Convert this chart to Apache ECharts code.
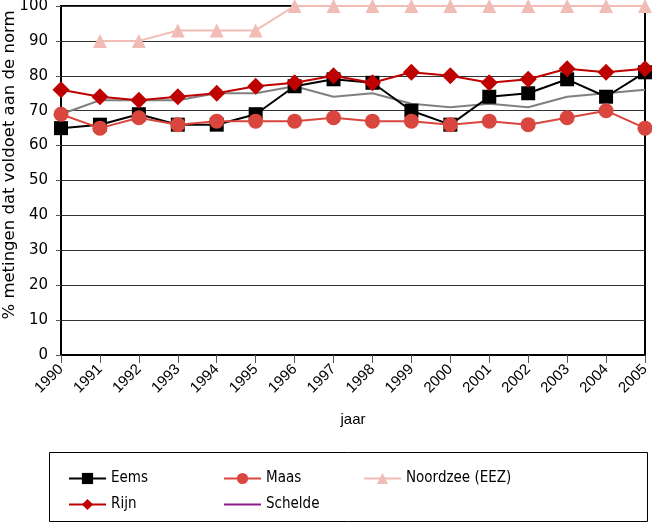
<!DOCTYPE html>
<html><head><meta charset="utf-8">
<script src="https://cdn.jsdelivr.net/npm/echarts@6/dist/echarts.min.js"></script>
<style>html,body{margin:0;padding:0;background:#fff}#c{width:652px;height:524px}</style>
</head><body><div id="c"></div>
<script>
const years = ['1990','1991','1992','1993','1994','1995','1996','1997','1998','1999','2000','2001','2002','2003','2004','2005'];
const eems     = [65,66,69,66,66,69,77,79,78,70,66,74,75,79,74,81];
const maas     = [69,65,68,66,67,67,67,68,67,67,66,67,66,68,70,65];
const noordzee = [null,90,90,93,93,93,100,100,100,100,100,100,100,100,100,100];
const rijn     = [76,74,73,74,75,77,78,80,78,81,80,78,79,82,81,82];
const schelde  = [69,73,73,73,75,75,77,74,75,72,71,72,71,74,75,76];
const yTicks = [0,10,20,30,40,50,60,70,80,90,100];
const yTitle = '% metingen dat voldoet aan de norm';

const FONT = 'Liberation Sans';
const WIDE = 'DejaVu Sans';
const NARROW = '"DejaVu Sans Condensed", "Liberation Sans"';
const chart = echarts.init(document.getElementById('c'), null, {renderer:'canvas'});
const legendText = {fontFamily: NARROW, fontSize: 15, color:'#000'};
chart.setOption({
  animation:false,
  backgroundColor:'#fff',
  textStyle:{fontFamily:FONT},
  grid:{left:61, right:7, top:6, bottom:169, containLabel:false, outerBoundsMode:'none',
    show:true, borderColor:'#000', borderWidth:2, backgroundColor:'transparent'},
  xAxis:{type:'category', data:years, boundaryGap:false,
    name:'jaar', nameLocation:'middle', nameGap:57,
    nameTextStyle:{fontFamily:FONT, fontSize:15, color:'#000'},
    axisLine:{lineStyle:{color:'#000', width:2}},
    axisTick:{show:true, length:8, lineStyle:{color:'#555', width:1}},
    axisLabel:{rotate:45, fontSize:15, fontFamily:FONT, color:'#000', margin:12, interval:0},
    splitLine:{show:false}},
  yAxis:{type:'value', min:0, max:100, interval:10,
    axisLine:{show:true, lineStyle:{color:'#000', width:2}},
    axisTick:{show:true, length:5, lineStyle:{color:'#555'}},
    axisLabel:{fontSize:15, fontFamily:WIDE, color:'#000', margin:13,
      formatter: v => yTicks.includes(v) ? String(v) : ''},
    splitLine:{show:true, lineStyle:{color:'#333', width:1}}},
  legend:[
    {orient:'vertical', left:63, top:466, itemWidth:37, itemHeight:14, itemGap:11,
      textStyle:legendText, data:['Eems','Rijn']},
    {orient:'vertical', left:218, top:466, itemWidth:37, itemHeight:14, itemGap:11,
      textStyle:legendText, data:['Maas',{name:'Schelde', itemStyle:{opacity:0}, lineStyle:{color:'#8b1a8b'}}]},
    {orient:'vertical', left:358, top:466, itemWidth:37, itemHeight:14, itemGap:11,
      textStyle:legendText, data:['Noordzee (EEZ)']}
  ],
  graphic:[
    {type:'rect', shape:{x:49.5, y:452.5, width:598, height:69}, style:{fill:'none', stroke:'#000', lineWidth:1}, z:-1},
    {type:'text', x:10, y:165, rotation:Math.PI/2,
      style:{text:yTitle, fontFamily:WIDE, fontSize:16.5, fill:'#000', align:'center', verticalAlign:'middle'}}
  ],
  series:[
    {name:'Schelde', type:'line', data:schelde, symbol:'none', lineStyle:{color:'#808080', width:2}, itemStyle:{color:'#808080'}, z:1},
    {name:'Noordzee (EEZ)', type:'line', data:noordzee, symbol:'triangle', symbolSize:14, lineStyle:{color:'#f2bcb6', width:2}, itemStyle:{color:'#f2bcb6'}, z:2},
    {name:'Eems', type:'line', data:eems, symbol:'rect', symbolSize:14, lineStyle:{color:'#000', width:2}, itemStyle:{color:'#000'}, z:3},
    {name:'Maas', type:'line', data:maas, symbol:'circle', symbolSize:15, lineStyle:{color:'#d9463d', width:2}, itemStyle:{color:'#d9463d'}, z:4},
    {name:'Rijn', type:'line', data:rijn, symbol:'diamond', symbolSize:17, lineStyle:{color:'#bf0000', width:2}, itemStyle:{color:'#bf0000'}, z:5}
  ]
});
</script></body></html>
